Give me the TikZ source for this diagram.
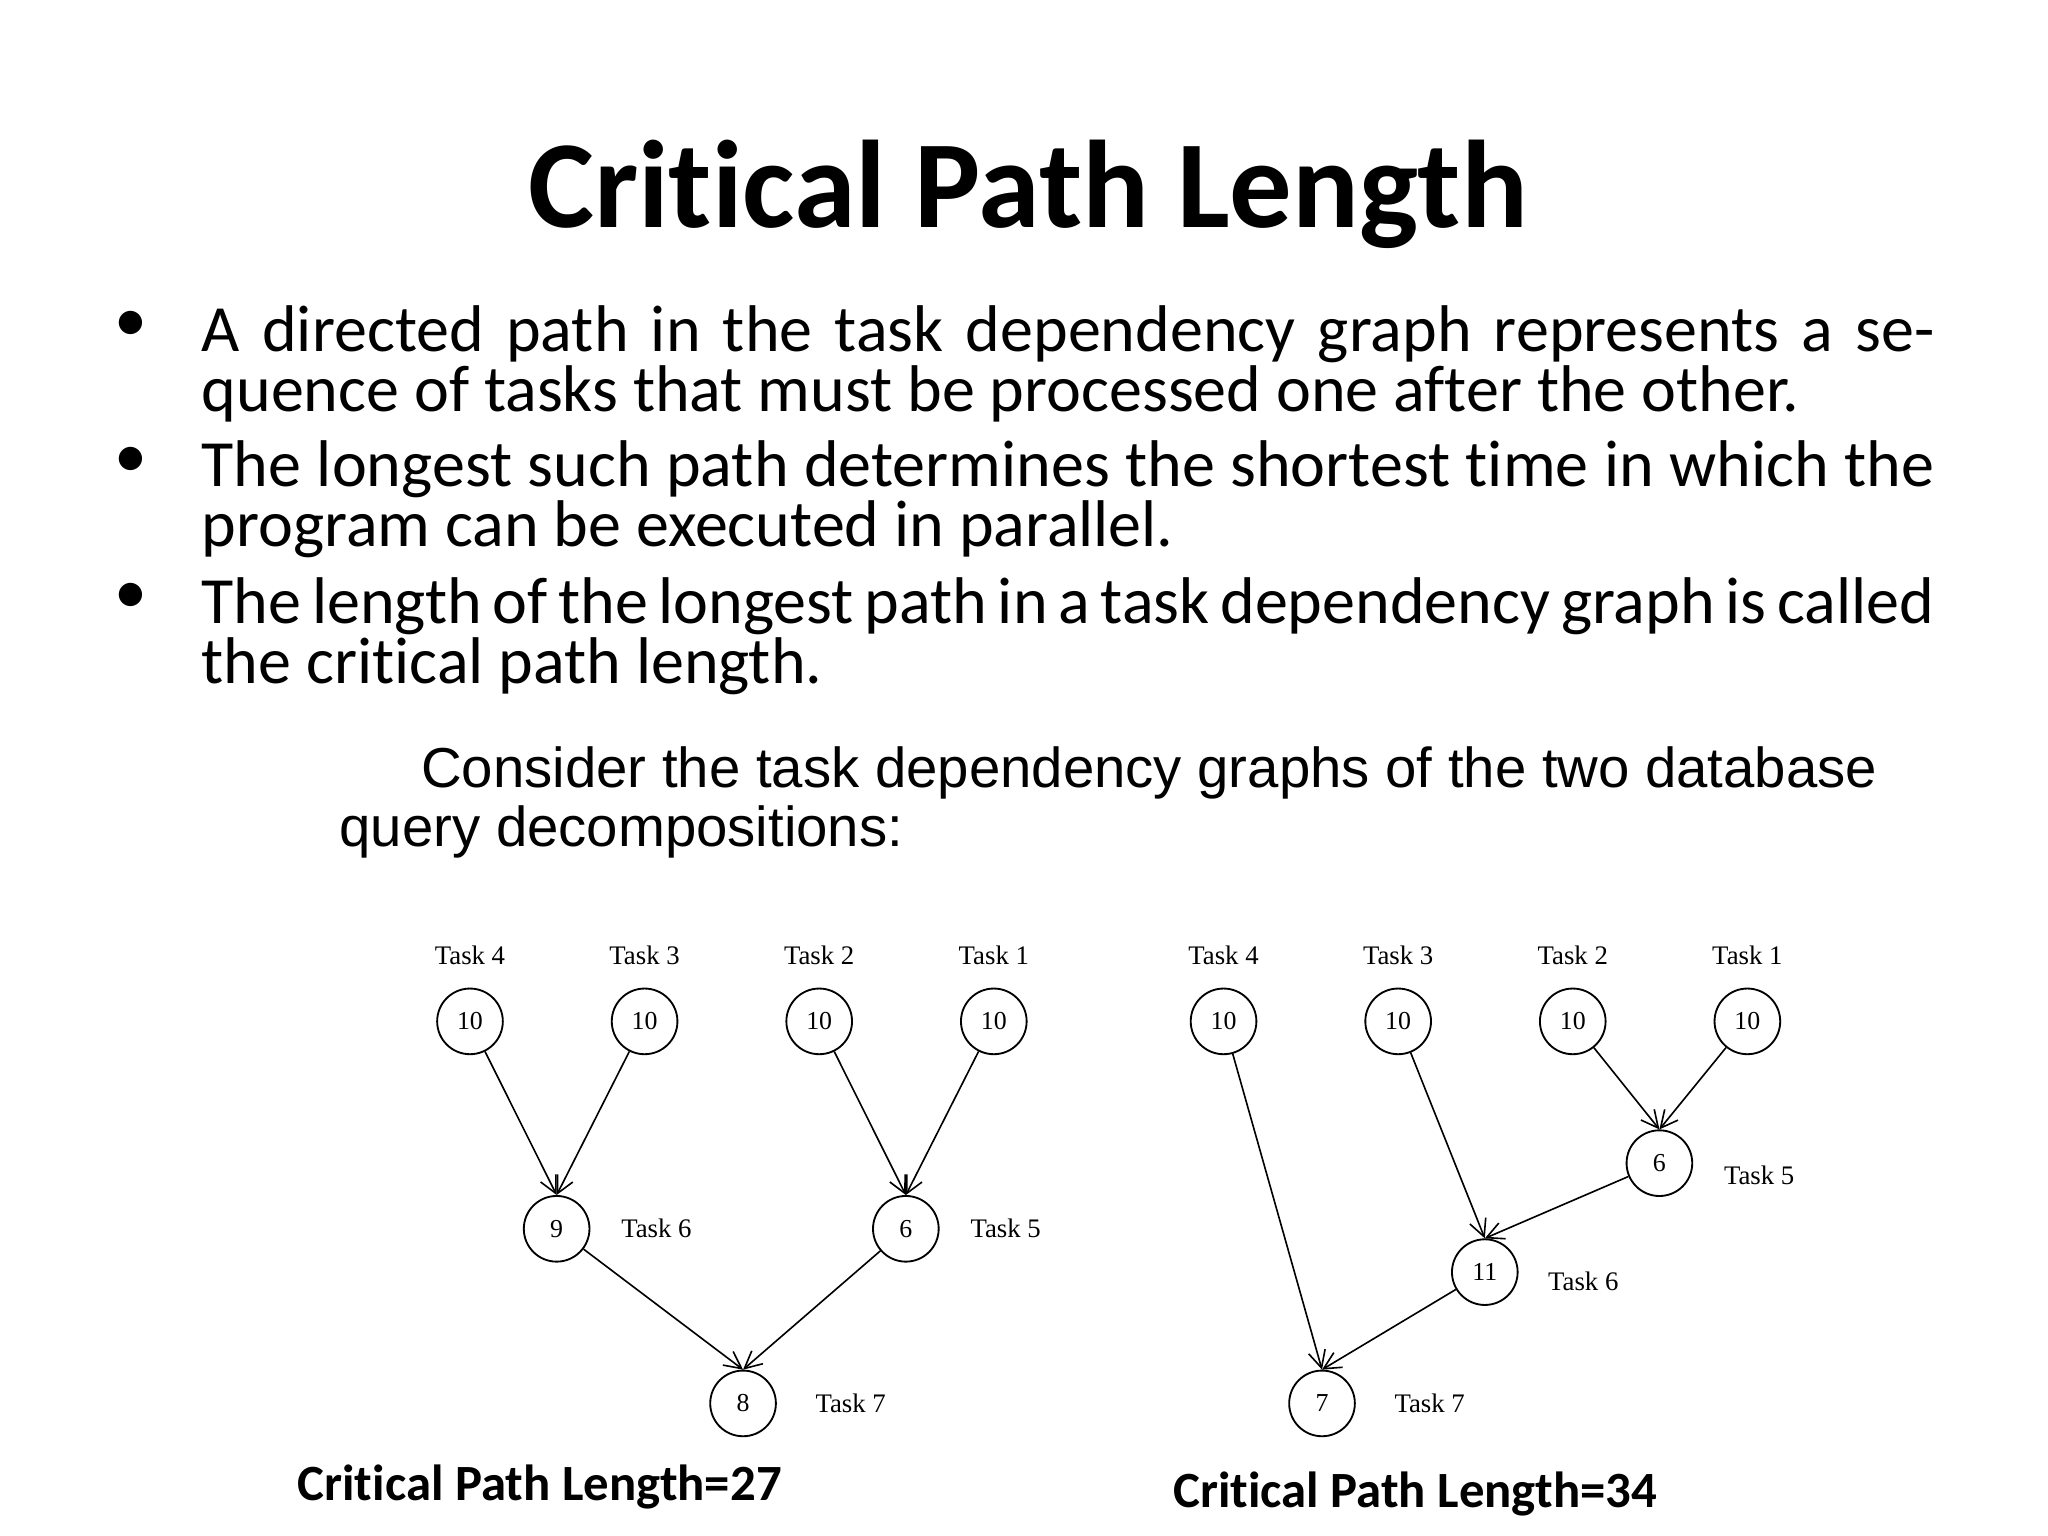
\documentclass[tikz,border=0pt]{standalone}
\usepackage{fontspec}
\setmainfont[Ligatures=CommonOff]{Carlito}
\newfontfamily\gothic{Liberation Sans}
\newfontfamily\tnr{Liberation Serif}
\usetikzlibrary{arrows.meta}
\tikzset{task/.style={draw,circle,minimum size=0.5cm,inner sep=0pt,font=\tnr\fontsize{5.6}{6}\selectfont},
 tlabel/.style={font=\tnr\fontsize{5.8}{6}\selectfont},
 dep/.style={-{Straight Barb[length=1.3mm,width=1.3mm]},line width=0.35pt},
 bullettext/.style={anchor=north west,text width=13.19cm,align=justify,inner sep=0pt,font=\fontsize{14.3}{13}\selectfont},
 }
\begin{document}
\begin{tikzpicture}[x=0.01cm,y=-0.01cm]
    \useasboundingbox (0,0) rectangle (1560,1170);
    \node[font=\bfseries\fontsize{27}{30}\selectfont] (title) at (783,148) {Critical Path Length};
    % bullets
    \foreach \y/\txt in {232/{A directed path in the task dependency graph represents a sequence of tasks that must be processed one after the other.},
                         335/{The longest such path determines the shortest time in which the program can be executed in parallel.},
                         439/{The length of the longest path in a task dependency graph is called the critical path length.}} {
        \node[font=\fontsize{14.3}{13}\selectfont] at (100,\y+17) {\textbullet};
        \node[bullettext] at (153,\y) {\txt};
    }
    \node[anchor=north west,align=left,inner sep=0pt,font=\gothic\fontsize{12.2}{12.8}\selectfont] (consider) at (258,568)
        {\hspace*{1.45em}Consider the task dependency graphs of the two database\\query decompositions:};
    % left graph
    \foreach \x/\n in {358/4,491/3,624/2,757/1} {
        \node[task] (a\n) at (\x,778) {10};
        \node[tlabel] (al\n) at (\x,728) {Task \n};
    }
    \node[task] (a6) at (424,936) {9};
    \node[tlabel] (al6) at (500,936) {Task 6};
    \node[task] (a5) at (690,936) {6};
    \node[tlabel] (al5) at (766,936) {Task 5};
    \node[task] (a7) at (566,1069) {8};
    \node[tlabel] (al7) at (648,1069) {Task 7};
    \draw[dep] (a4) -- (a6.north);
    \draw[dep] (a3) -- (a6.north);
    \draw[dep] (a2) -- (a5.north);
    \draw[dep] (a1) -- (a5.north);
    \draw[dep] (a6) -- (a7.north);
    \draw[dep] (a5) -- (a7.north);
    % right graph
    \foreach \x/\n in {932/4,1065/3,1198/2,1331/1} {
        \node[task] (b\n) at (\x,778) {10};
        \node[tlabel] (bl\n) at (\x,728) {Task \n};
    }
    \node[task] (b5) at (1264,886) {6};
    \node[tlabel] (bl5) at (1340,895) {Task 5};
    \node[task] (b6) at (1131,969) {11};
    \node[tlabel] (bl6) at (1206,976) {Task 6};
    \node[task] (b7) at (1007,1069) {7};
    \node[tlabel] (bl7) at (1089,1069) {Task 7};
    \draw[dep] (b4) -- (b7.north);
    \draw[dep] (b3) -- (b6.north);
    \draw[dep] (b2) -- (b5.north);
    \draw[dep] (b1) -- (b5.north);
    \draw[dep] (b5) -- (b6.north);
    \draw[dep] (b6) -- (b7.north);
    \node[font=\bfseries\fontsize{11}{12}\selectfont] (len1) at (411,1133) {Critical Path Length=27};
    \node[font=\bfseries\fontsize{11}{12}\selectfont] (len2) at (1078,1138) {Critical Path Length=34};
\end{tikzpicture}
\end{document}
